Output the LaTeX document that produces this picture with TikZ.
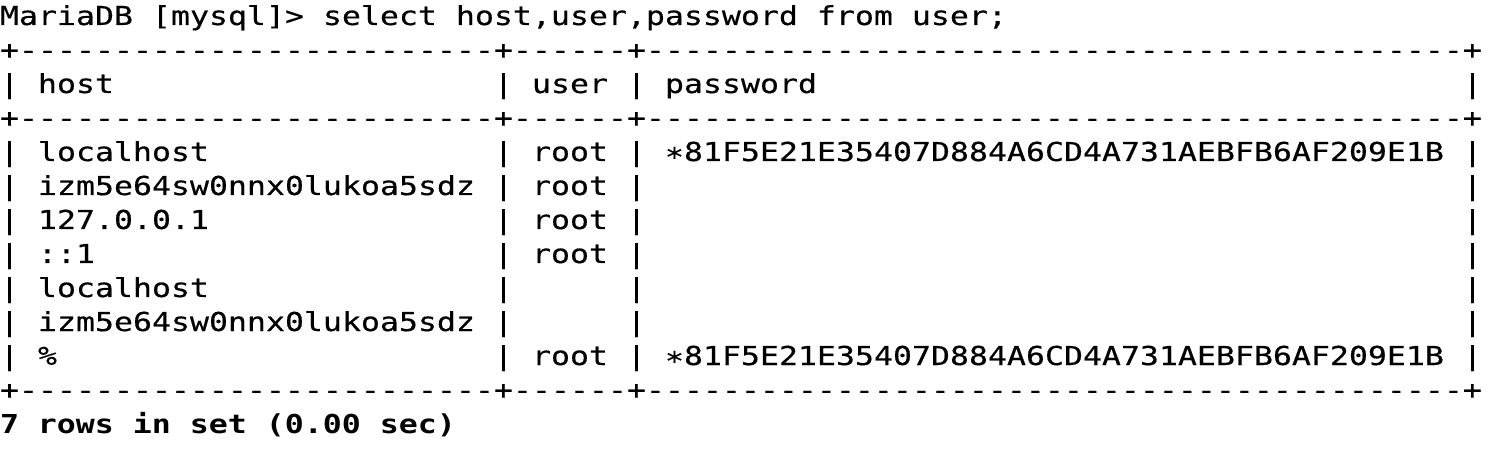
\documentclass[tikz,border=0pt]{standalone}
\usepackage{fontspec}
\setmonofont{DejaVu Sans Mono}[FakeStretch=1.211, UprightFeatures={FakeBold=0.4}]
\newcommand\dashrun[1]{\foreach \k in {1,...,#1}{-}}
\newcommand\midast{\raisebox{-0.2em}{*}}
\tikzset{
  term/.style={anchor=base west, inner sep=0pt, outer sep=0pt, text=black,
    font=\fontsize{26.06}{34}\selectfont\ttfamily},
  termbold/.style={term, font=\fontsize{26.06}{34}\selectfont\ttfamily\bfseries}
}
\begin{document}
\begin{tikzpicture}[x=1pt,y=1pt]
\useasboundingbox[fill=white] (0,0) rectangle (1502,-462);
% prompt line
\node[term] (prompt) at (0,-25) {MariaDB [mysql]> select host,user,password from user;};
% borders
\foreach \l/\n in {1/top,3/mid,11/bot}
  \node[term] (\n) at (0,{-25-\l*34}) {+\dashrun{25}+\dashrun{6}+\dashrun{43}+};
% column bars
\foreach \l in {2,4,5,...,10}
  \foreach \c [count=\j] in {0,26,33,77}
    \node[term] (bar\l-\j) at ({\c*19},{-25-\l*34}) {|};
% header
\node[term] (hhost) at (2*19,-93) {host};
\node[term] (huser) at (28*19,-93) {user};
\node[term] (hpass) at (35*19,-93) {password};
% rows
\foreach \r/\h/\u/\p in {
  0/{localhost}/{root}/{\midast 81F5E21E35407D884A6CD4A731AEBFB6AF209E1B},
  1/{izm5e64sw0nnx0lukoa5sdz}/{root}/{},
  2/{127.0.0.1}/{root}/{},
  3/{::1}/{root}/{},
  4/{localhost}/{}/{},
  5/{izm5e64sw0nnx0lukoa5sdz}/{}/{},
  6/{\%}/{root}/{\midast 81F5E21E35407D884A6CD4A731AEBFB6AF209E1B}}
{
  \node[term] (host\r) at (2*19,{-25-(4+\r)*34}) {\h};
  \node[term] (user\r) at (28*19,{-25-(4+\r)*34}) {\u};
  \node[term] (pass\r) at (35*19,{-25-(4+\r)*34}) {\p};
}
% footer
\node[termbold] (foot) at (0,-433) {7 rows in set (0.00 sec)};
\end{tikzpicture}
\end{document}
